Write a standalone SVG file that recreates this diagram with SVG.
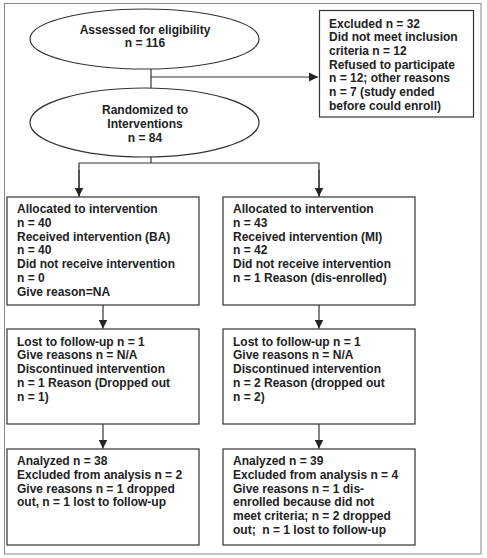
<svg xmlns="http://www.w3.org/2000/svg" width="487" height="558" viewBox="0 0 487 558">
<style>
text{font-family:"Liberation Sans",Arial,sans-serif;font-weight:bold;font-size:12px;fill:#222}
.box{fill:#fff;stroke:#333;stroke-width:1.2}
.c{text-anchor:middle}
.ln{fill:none;stroke:#333;stroke-width:1.2}
</style>
<defs>
<marker id="ah" markerWidth="10" markerHeight="10" refX="9" refY="5" orient="auto" markerUnits="userSpaceOnUse">
<path d="M0,0.5 L9,5 L0,9.5 Z" fill="#222"/>
</marker>
</defs>
<rect x="0" y="0" width="487" height="558" fill="#fff"/>
<rect x="4.5" y="3.5" width="476.5" height="550.5" fill="none" stroke="#888" stroke-width="1"/>
<g id="connectors">
<line class="ln" x1="151" y1="69" x2="151" y2="89"/>
<line class="ln" x1="151" y1="77" x2="318" y2="77" marker-end="url(#ah)"/>
<polyline class="ln" points="151,157 151,163"/>
<polyline class="ln" points="79,196.5 79,163 319,163 319,196.5"/>
<line class="ln" x1="79" y1="170" x2="79" y2="196.5" marker-end="url(#ah)"/>
<line class="ln" x1="319" y1="170" x2="319" y2="196.5" marker-end="url(#ah)"/>
<line class="ln" x1="103" y1="305" x2="103" y2="328.5" marker-end="url(#ah)"/>
<line class="ln" x1="319" y1="305" x2="319" y2="328.5" marker-end="url(#ah)"/>
<line class="ln" x1="103" y1="424" x2="103" y2="448.5" marker-end="url(#ah)"/>
<line class="ln" x1="319" y1="424" x2="319" y2="448.5" marker-end="url(#ah)"/>
</g>
<g id="assessed">
<ellipse class="box" cx="144.5" cy="39" rx="114.5" ry="30"/>
<text class="c" x="145" y="33.5">Assessed for eligibility</text>
<text class="c" x="145" y="47">n = 116</text>
</g>
<g id="excluded">
<rect class="box" x="319.5" y="10.5" width="154" height="106.5"/>
<text x="329" y="27.5">Excluded n = 32</text>
<text x="329" y="41.2">Did not meet inclusion</text>
<text x="329" y="54.9">criteria n = 12</text>
<text x="329" y="68.6">Refused to participate</text>
<text x="329" y="82.3">n = 12; other reasons</text>
<text x="329" y="96">n = 7 (study ended</text>
<text x="329" y="109.7">before could enroll)</text>
</g>
<g id="randomized">
<ellipse class="box" cx="144.5" cy="122.5" rx="114.5" ry="34.5"/>
<text class="c" x="145" y="114">Randomized to</text>
<text class="c" x="145" y="127.8">Interventions</text>
<text class="c" x="145" y="141.5">n = 84</text>
</g>
<g id="alloc-ba">
<rect class="box" x="7" y="197" width="192" height="108"/>
<text x="17" y="213">Allocated to intervention</text>
<text x="17" y="226.8">n = 40</text>
<text x="17" y="240.6">Received intervention (BA)</text>
<text x="17" y="254.4">n = 40</text>
<text x="17" y="268.2">Did not receive intervention</text>
<text x="17" y="282">n = 0</text>
<text x="17" y="295.8">Give reason=NA</text>
</g>
<g id="alloc-mi">
<rect class="box" x="223" y="197" width="192" height="108"/>
<text x="233" y="213">Allocated to intervention</text>
<text x="233" y="226.8">n = 43</text>
<text x="233" y="240.6">Received intervention (MI)</text>
<text x="233" y="254.4">n = 42</text>
<text x="233" y="268.2">Did not receive intervention</text>
<text x="233" y="282">n = 1 Reason (dis-enrolled)</text>
</g>
<g id="followup-ba">
<rect class="box" x="7" y="329" width="192" height="95"/>
<text x="17" y="345.5">Lost to follow-up n = 1</text>
<text x="17" y="359.3">Give reasons n = N/A</text>
<text x="17" y="373.1">Discontinued intervention</text>
<text x="17" y="386.9">n = 1 Reason (Dropped out</text>
<text x="17" y="400.7">n = 1)</text>
</g>
<g id="followup-mi">
<rect class="box" x="223" y="329" width="192" height="95"/>
<text x="233" y="345.5">Lost to follow-up n = 1</text>
<text x="233" y="359.3">Give reasons n = N/A</text>
<text x="233" y="373.1">Discontinued intervention</text>
<text x="233" y="386.9">n = 2 Reason (dropped out</text>
<text x="233" y="400.7">n = 2)</text>
</g>
<g id="analyzed-ba">
<rect class="box" x="7" y="449" width="192" height="96"/>
<text x="17" y="465">Analyzed n = 38</text>
<text x="17" y="478.8">Excluded from analysis n = 2</text>
<text x="17" y="492.6">Give reasons n = 1 dropped</text>
<text x="17" y="506.4">out, n = 1 lost to follow-up</text>
</g>
<g id="analyzed-mi">
<rect class="box" x="223" y="449" width="192" height="96"/>
<text x="233" y="465">Analyzed n = 39</text>
<text x="233" y="478.8">Excluded from analysis n = 4</text>
<text x="233" y="492.6">Give reasons n = 1 dis-</text>
<text x="233" y="506.4">enrolled because did not</text>
<text x="233" y="520.2">meet criteria; n = 2 dropped</text>
<text x="233" y="534" xml:space="preserve">out;  n = 1 lost to follow-up</text>
</g>
</svg>
